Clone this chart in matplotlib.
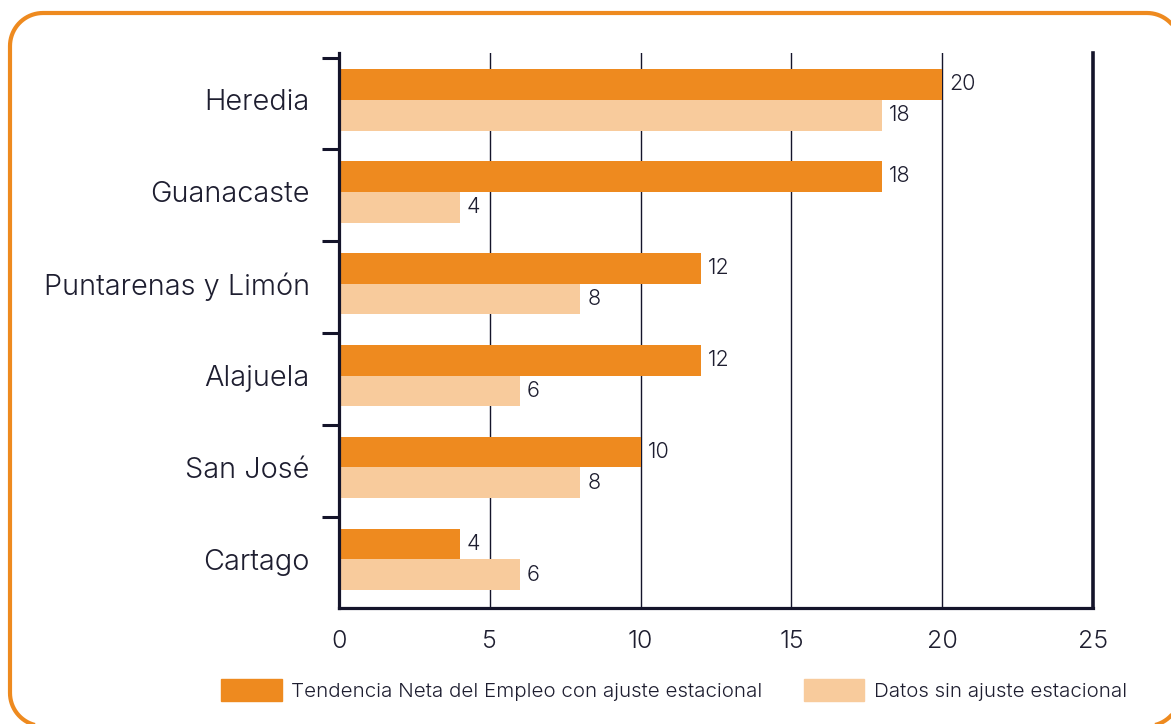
import matplotlib.pyplot as plt
from matplotlib.patches import PathPatch, Patch
from matplotlib.path import Path
import numpy as np

# data
regiones = ['Heredia', 'Guanacaste', 'Puntarenas y Limón', 'Alajuela', 'San José', 'Cartago']
con_ajuste = [20, 18, 12, 12, 10, 4]
sin_ajuste = [18, 4, 8, 6, 8, 6]
x_ticks = [0, 5, 10, 15, 20, 25]

naranja = '#EE8A1F'
durazno = '#F8CB9C'
oscuro = '#14142a'
texto = '#1e1e30'

plt.rcParams['font.family'] = ['Inter', 'DejaVu Sans']
plt.rcParams['font.weight'] = 300

fig = plt.figure(figsize=(11.71, 7.24), dpi=100)
ax = fig.add_axes([0.2895, 0.1602, 0.6439, 0.7666])

y = np.arange(len(regiones))
h = 0.335
b1 = ax.barh(y - h / 2, con_ajuste, height=h, color=naranja, zorder=2)
b2 = ax.barh(y + h / 2, sin_ajuste, height=h, color=durazno, zorder=2)
ax.bar_label(b1, padding=5, fontsize=15.5, color=texto)
ax.bar_label(b2, padding=5, fontsize=15.5, color=texto)

ax.set_xlim(0, 25)
ax.set_ylim(5.53, -0.51)

# x axis
ax.set_xticks(x_ticks)
ax.tick_params(axis='x', length=0, pad=16, labelsize=18, labelcolor=texto)
for v in x_ticks[1:-1]:
    ax.axvline(v, color=oscuro, lw=1.0, zorder=1)

# y axis: boundary ticks + labels at centers
ax.set_yticks(np.arange(len(regiones)) - 0.46)
ax.set_yticklabels([])
ax.tick_params(axis='y', which='major', length=12, width=2.2, color=oscuro, direction='out')
ax.set_yticks(y, minor=True)
ax.set_yticklabels(regiones, minor=True)
ax.tick_params(axis='y', which='minor', length=0, pad=21, labelsize=20.8, labelcolor=texto)

ax.spines['top'].set_visible(False)
for s in ['left', 'bottom']:
    ax.spines[s].set_linewidth(2.3)
    ax.spines[s].set_color(oscuro)
ax.spines['right'].set_linewidth(2.6)
ax.spines['right'].set_color(oscuro)

# legend
handles = [Patch(color=naranja, label='Tendencia Neta del Empleo con ajuste estacional'),
           Patch(color=durazno, label='Datos sin ajuste estacional')]
fig.legend(handles=handles, loc='center', bbox_to_anchor=(0.5756, 0.047), ncol=2,
           frameon=False, fontsize=14.8, handlelength=2.95, handleheight=1.25,
           handletextpad=0.45, columnspacing=2.0, labelcolor=texto)

# rounded orange frame (inches)
x0, x1, y0, y1, r = 0.10, 11.80, -0.02, 7.11, 0.33
t = np.linspace(0, np.pi / 2, 20)
pts = []
for cx, cy, a0 in [(x1 - r, y1 - r, 0), (x0 + r, y1 - r, np.pi / 2),
                   (x0 + r, y0 + r, np.pi), (x1 - r, y0 + r, 1.5 * np.pi)]:
    pts += list(zip(cx + r * np.cos(a0 + t), cy + r * np.sin(a0 + t)))
pts.append(pts[0])
marco = PathPatch(Path(pts), transform=fig.dpi_scale_trans, facecolor='none',
                  edgecolor=naranja, lw=3.0, clip_on=False)
fig.patches.append(marco)

fig.savefig('out.png', dpi=100)
